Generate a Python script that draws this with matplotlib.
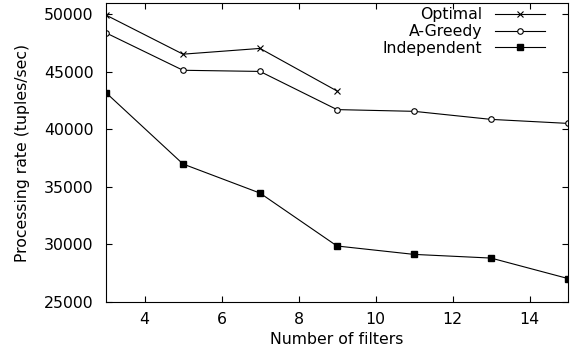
import numpy as np
import matplotlib.pyplot as plt

plt.rcParams['font.family'] = ['DejaVu Sans']

# processing rate vs number of filters
x_opt = [3, 5, 7, 9]
optimal = [49950, 46550, 47050, 43350]
x_all = [3, 5, 7, 9, 11, 13, 15]
a_greedy = [48400, 45150, 45050, 41730, 41580, 40880, 40530]
independent = [43200, 37000, 34470, 29870, 29140, 28820, 27040]

fig = plt.figure(figsize=(5.7, 3.52), dpi=100)
ax = fig.add_axes([106 / 570, 1 - 302 / 352, 462 / 570, 299 / 352])
ax.plot(x_opt, optimal, 'k-', marker='x', ms=5, mew=0.8, lw=0.8, label='Optimal')
ax.plot(x_all, a_greedy, 'k-', marker='o', ms=4, mfc='white', mew=0.8, lw=0.8, label='A-Greedy')
ax.plot(x_all, independent, 'k-', marker='s', ms=5, lw=0.8, label='Independent')
ax.set_xlim([3, 15])
ax.set_ylim([25000, 51000])
ax.set_xticks([4, 6, 8, 10, 12, 14])
ax.set_yticks(np.arange(25000, 50001, 5000))
ax.tick_params(direction='in', top=True, right=True, labelsize=11.3, length=4)
ax.tick_params(axis='y', pad=9)
ax.tick_params(axis='x', pad=7)
ax.set_xlabel('Number of filters', fontsize=11.3, labelpad=4)
ax.set_ylabel('Processing rate (tuples/sec)', fontsize=11.3, labelpad=10)
ax.legend(loc='upper right', bbox_to_anchor=(0.95, 0.985), frameon=False, markerfirst=False,
          fontsize=11.3, handlelength=3.2, labelspacing=0.1, borderpad=0, borderaxespad=0,
          handletextpad=0.8)
plt.savefig('out.png')
